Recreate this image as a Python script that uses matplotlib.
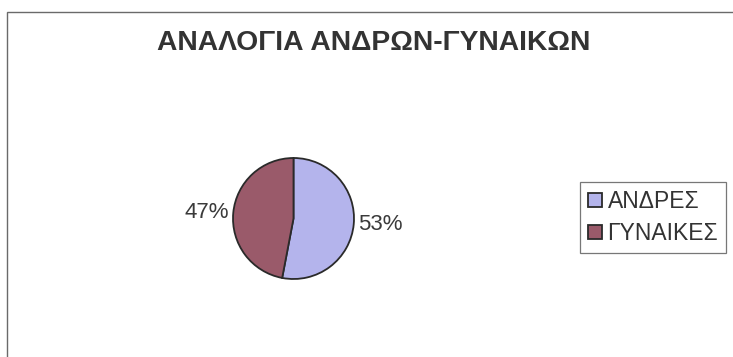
import matplotlib
matplotlib.use('Agg')
from matplotlib import pyplot
from matplotlib.patches import Rectangle

title = 'ΑΝΑΛΟΓΙΑ ΑΝΔΡΩΝ-ΓΥΝΑΙΚΩΝ'
categories = ['ΑΝΔΡΕΣ', 'ΓΥΝΑΙΚΕΣ']
values = [53, 47]
colors = ['#b4b4ec', '#9a5a6a']

pct_labels = ['%d%%' % round(100.0 * v / sum(values)) for v in values]

W, H = 733, 357
fig = pyplot.figure(figsize=(W / 100, H / 100), dpi=100)
fig.patch.set_facecolor('white')

# outer chart frame (runs off the right and bottom of the scan)
fig.patches.append(Rectangle((7 / W, -0.1), 2.0, 1 - 12 / H + 0.1, transform=fig.transFigure,
                             fill=False, edgecolor='#6a6a6a', linewidth=1.0))

fig.text(374 / W, 1 - 43 / H, title, ha='center', va='center', fontsize=20.3,
         fontweight='bold', color='#333333', family=['Liberation Sans', 'DejaVu Sans'])

# pie axes: centre (293.5, 218.5) px, radius 60.5 px
cx, cy, r = 293.5, 218.5, 60.5
lim = 1.05
ax = fig.add_axes([(cx - r * lim) / W, (H - cy - r * lim) / H, 2 * r * lim / W, 2 * r * lim / H])
wedges, texts = ax.pie(values, labels=pct_labels, colors=colors, startangle=90, counterclock=False,
                       labeldistance=1.07, wedgeprops=dict(edgecolor='#2a2a2a', linewidth=1.3),
                       textprops=dict(fontsize=16, color='#3a3a3a', family=['Liberation Sans', 'DejaVu Sans']))
ax.set_xlim(-lim, lim)
ax.set_ylim(-lim, lim)
ax.set_aspect('equal')
ax.axis('off')

leg = fig.legend(wedges, categories, loc='upper left', bbox_to_anchor=(580 / W, 1 - 182 / H),
                 frameon=True, fancybox=False, edgecolor='#777777', framealpha=1,
                 handlelength=0.6, handleheight=0.6, handletextpad=0.25, labelspacing=0.4,
                 borderpad=0.35, borderaxespad=0, prop=dict(family=['Liberation Sans', 'DejaVu Sans'], size=16.5))
leg.get_frame().set_linewidth(0.9)
for t in leg.get_texts():
    t.set_color('#333333')

fig.savefig('out.png', dpi=100)
